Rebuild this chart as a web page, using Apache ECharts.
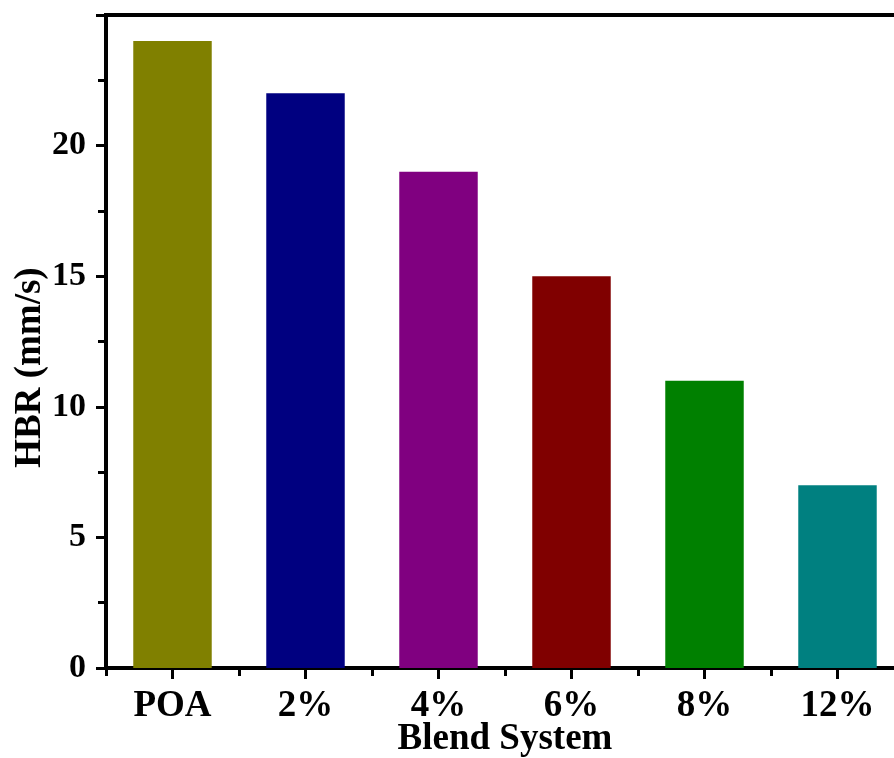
<!DOCTYPE html>
<html>
<head>
<meta charset="utf-8">
<script src="https://cdn.jsdelivr.net/npm/echarts@6/dist/echarts.min.js"></script>
<style>
html,body{margin:0;padding:0;background:#fff;}
#chart{width:894px;height:758px;}
</style>
</head>
<body>
<div id="chart"></div>
<script>
const categories = ['POA', '2%', '4%', '6%', '8%', '12%'];
const hbrValues = [24, 22, 19, 15, 11, 7];
const barColors = ['#808000', '#000080', '#800080', '#800000', '#008000', '#008080'];
const yTicks = [0, 5, 10, 15, 20];

const FONT = '"Liberation Serif", "Times New Roman", serif';
const chart = echarts.init(document.getElementById('chart'));
chart.setOption({
  animation: false,
  backgroundColor: '#fff',
  grid: {
    left: 106, top: 15, right: -10, bottom: 90,
    containLabel: false, outerBoundsMode: 'none',
    show: true, borderColor: '#000', borderWidth: 4, backgroundColor: 'transparent'
  },
  xAxis: [{
    type: 'category',
    data: categories,
    position: 'bottom',
    name: 'Blend System',
    nameLocation: 'middle',
    nameGap: 53,
    nameMoveOverlap: false,
    nameTextStyle: { fontFamily: FONT, fontWeight: 'bold', fontSize: 37, color: '#000' },
    axisLine: { lineStyle: { color: '#000', width: 4 } },
    axisTick: { show: true, alignWithLabel: true, length: 11, lineStyle: { color: '#000', width: 3 } },
    axisLabel: { fontFamily: FONT, fontWeight: 'bold', fontSize: 37, color: '#000', margin: 20 },
    splitLine: { show: false }
  }, {
    type: 'category',
    data: categories,
    position: 'bottom',
    axisLine: { show: true, lineStyle: { color: '#000', opacity: 0, width: 4 } },
    axisTick: { show: true, length: 8, lineStyle: { color: '#000', width: 3 } },
    axisLabel: { show: false },
    splitLine: { show: false }
  }],
  yAxis: {
    type: 'value',
    min: 0, max: 25, interval: 5,
    name: 'HBR (mm/s)',
    nameLocation: 'middle',
    nameGap: 57,
    nameMoveOverlap: false,
    nameTextStyle: { fontFamily: FONT, fontWeight: 'bold', fontSize: 37, color: '#000', padding: [0, 52, 0, 0] },
    axisLine: { show: true, lineStyle: { color: '#000', width: 4 } },
    axisTick: { show: true, length: 10, lineStyle: { color: '#000', width: 3 } },
    minorTick: { show: true, splitNumber: 2, length: 8, lineStyle: { color: '#000', width: 3 } },
    axisLabel: {
      fontFamily: FONT, fontWeight: 'bold', fontSize: 34, color: '#000', margin: 20,
      formatter: v => (yTicks.includes(v) ? String(v) : '')
    },
    splitLine: { show: false }
  },
  series: [{
    type: 'bar',
    xAxisIndex: 0,
    barWidth: '59%',
    data: hbrValues.map((v, i) => ({ value: v, itemStyle: { color: barColors[i] } }))
  }]
});
</script>
</body>
</html>
